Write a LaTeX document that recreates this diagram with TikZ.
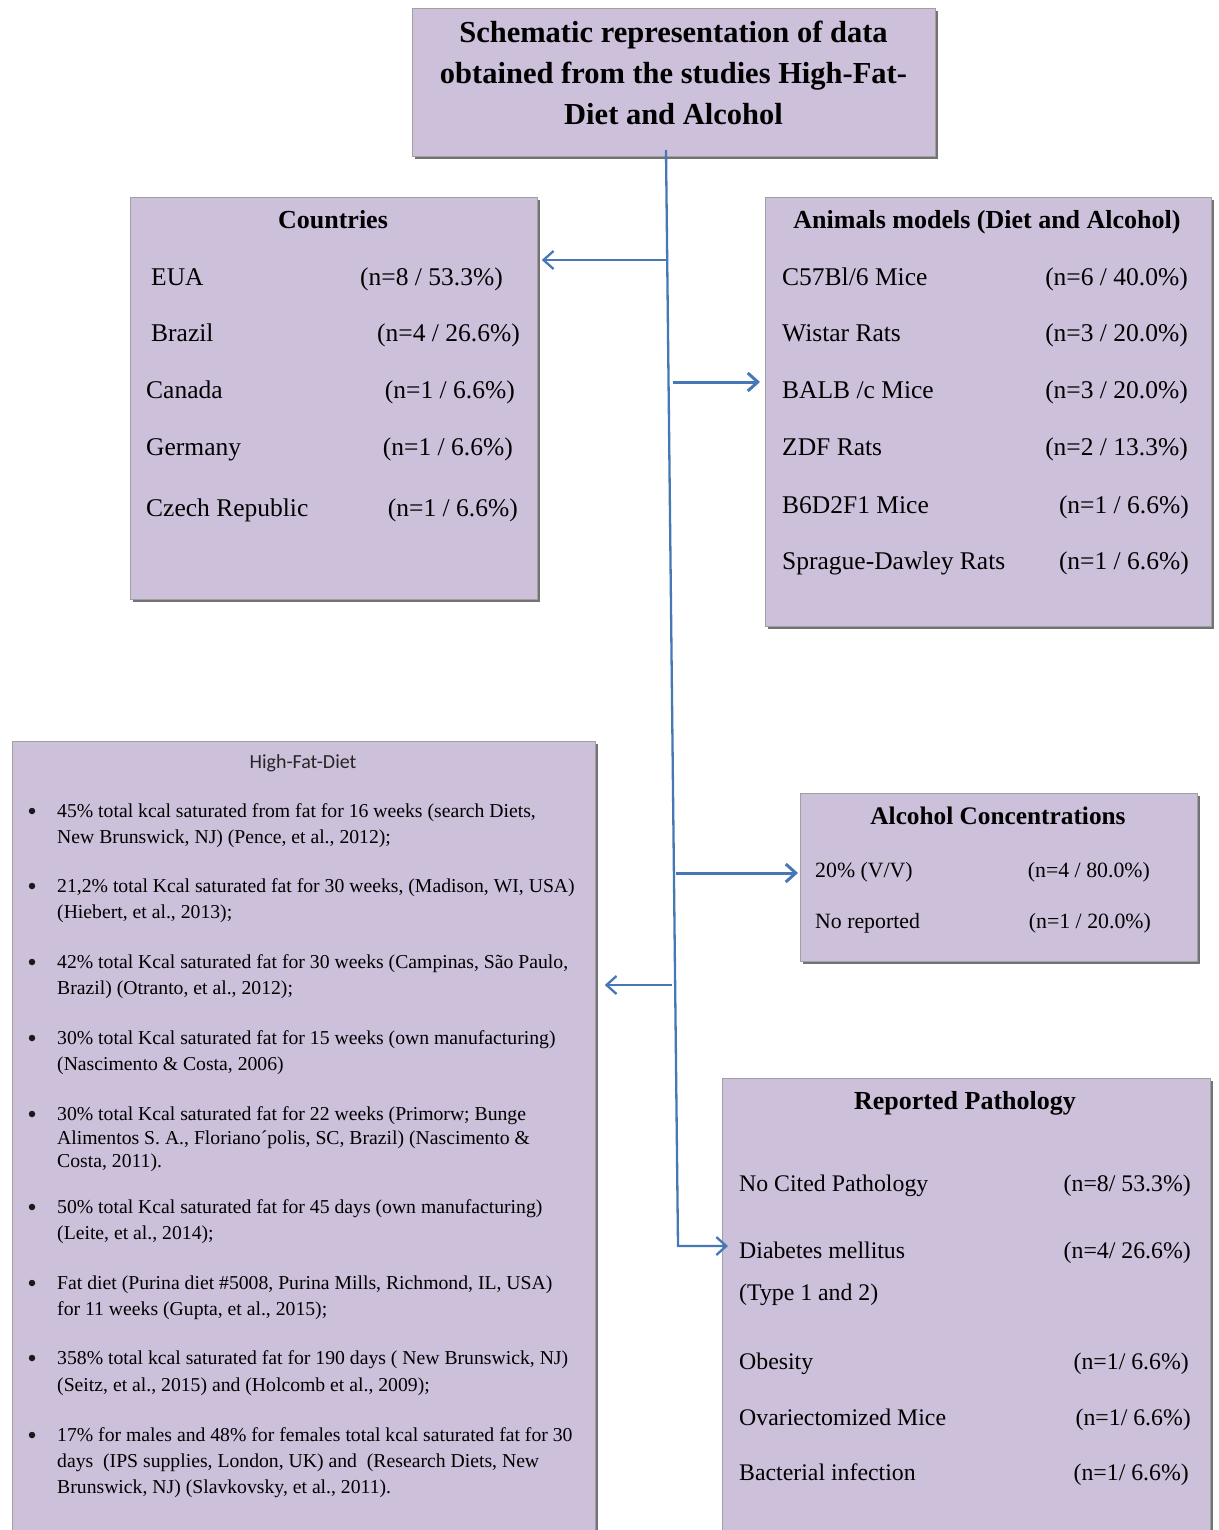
\documentclass[tikz,border=0pt]{standalone}
\usepackage{fontspec}
\setmainfont{Liberation Serif}
\newfontfamily\sansf{Carlito}
\usetikzlibrary{arrows.meta,shadows}
\definecolor{boxfill}{RGB}{204,192,218}
\definecolor{boxline}{RGB}{160,160,160}
\definecolor{shadowgray}{RGB}{115,115,115}
\definecolor{linkblue}{RGB}{70,120,182}
\tikzset{
  box/.style={draw=boxline, fill=boxfill, line width=0.8pt, inner sep=0pt, anchor=north west,
    drop shadow={shadow xshift=2.5pt, shadow yshift=-2.5pt, fill=shadowgray, opacity=1}},
  ttl/.style={inner sep=0pt, anchor=base, font=\fontsize{30.5}{35}\selectfont\bfseries},
  hd/.style={inner sep=0pt, anchor=base, font=\fontsize{26}{30}\selectfont\bfseries},
  rl/.style={inner sep=0pt, anchor=base west, font=\fontsize{25.5}{30}\selectfont},
  rr/.style={inner sep=0pt, anchor=base east, font=\fontsize{25.5}{30}\selectfont},
  pl/.style={inner sep=0pt, anchor=base west, font=\fontsize{23.8}{28}\selectfont},
  pr/.style={inner sep=0pt, anchor=base east, font=\fontsize{23.8}{28}\selectfont},
  sl/.style={inner sep=0pt, anchor=base west, font=\fontsize{21.8}{24}\selectfont},
  sr/.style={inner sep=0pt, anchor=base east, font=\fontsize{21.8}{24}\selectfont},
  hl/.style={inner sep=0pt, anchor=base west, font=\fontsize{19.7}{24}\selectfont},
  bul/.style={inner sep=0pt, anchor=center, circle, fill=black!90, minimum size=6.5pt},
  arr/.style={draw=linkblue, line width=3pt, -{Straight Barb[length=10pt,width=18pt]}},
  trunk/.style={draw=linkblue, line width=2.3pt, -{Straight Barb[length=10pt,width=18pt]}},
}
\begin{document}
\begin{tikzpicture}[x=1pt,y=-1pt]
\useasboundingbox (0,0) rectangle (1218,1530);
\clip (0,0) rectangle (1218,1530);
\fill[white] (0,0) rectangle (1218,1530);

% ---------- boxes ----------
\node[box, minimum width=523, minimum height=148] (title) at (412,8) {};
\node[box, minimum width=407, minimum height=402] (countries) at (130,197) {};
\node[box, minimum width=446, minimum height=429] (animals) at (765,197) {};
\node[box, minimum width=583, minimum height=820] (hfd) at (12,741) {};
\node[box, minimum width=397, minimum height=168] (alcohol) at (800,793) {};
\node[box, minimum width=488, minimum height=480] (patho) at (722,1078) {};

% ---------- title ----------
\node[ttl] (ti1) at (673.5,43) {Schematic representation of data};
\node[ttl] (ti2) at (673.5,84) {obtained from the studies High-Fat-};
\node[ttl] (ti3) at (673.5,125) {Diet and Alcohol};

% ---------- countries ----------
\node[hd] (chd) at (333,229) {Countries};
\node[rl] (c1l) at (151,285) {EUA};
\node[rr] (c1r) at (503,285) {(n=8 / 53.3\%)};
\node[rl] (c2l) at (151,341) {Brazil};
\node[rr] (c2r) at (520,341) {(n=4 / 26.6\%)};
\node[rl] (c3l) at (146,398) {Canada};
\node[rr] (c3r) at (515,398) {(n=1 / 6.6\%)};
\node[rl] (c4l) at (146,455) {Germany};
\node[rr] (c4r) at (513,455) {(n=1 / 6.6\%)};
\node[rl] (c5l) at (146,516) {Czech Republic};
\node[rr] (c5r) at (518,516) {(n=1 / 6.6\%)};

% ---------- animals ----------
\node[hd] (ahd) at (987,229) {Animals models (Diet and Alcohol)};
\node[rl] (a1l) at (782,285) {C57Bl/6 Mice};
\node[rr] (a1r) at (1188,285) {(n=6 / 40.0\%)};
\node[rl] (a2l) at (782,341) {Wistar Rats};
\node[rr] (a2r) at (1188,341) {(n=3 / 20.0\%)};
\node[rl] (a3l) at (782,398) {BALB /c Mice};
\node[rr] (a3r) at (1188,398) {(n=3 / 20.0\%)};
\node[rl] (a4l) at (782,455) {ZDF Rats};
\node[rr] (a4r) at (1188,455) {(n=2 / 13.3\%)};
\node[rl] (a5l) at (782,513) {B6D2F1 Mice};
\node[rr] (a5r) at (1189,513) {(n=1 / 6.6\%)};
\node[rl] (a6l) at (782,569) {Sprague-Dawley Rats};
\node[rr] (a6r) at (1189,569) {(n=1 / 6.6\%)};

% ---------- alcohol ----------
\node[hd, font=\fontsize{25.3}{28}\selectfont\bfseries] (alhd) at (998,824) {Alcohol Concentrations};
\node[sl] (al1l) at (815,877) {20\% (V/V)};
\node[sr] (al1r) at (1150,877) {(n=4 / 80.0\%)};
\node[sl] (al2l) at (815,928) {No reported};
\node[sr] (al2r) at (1151,928) {(n=1 / 20.0\%)};

% ---------- pathology ----------
\node[hd] (phd) at (965,1109) {Reported Pathology};
\node[pl] (p1l) at (739,1191) {No Cited Pathology};
\node[pr] (p1r) at (1191,1191) {(n=8/ 53.3\%)};
\node[pl] (p2l) at (739,1258) {Diabetes mellitus};
\node[pr] (p2r) at (1191,1258) {(n=4/ 26.6\%)};
\node[pl] (p2m) at (739,1300) {(Type 1 and 2)};
\node[pl] (p3l) at (739,1369) {Obesity};
\node[pr] (p3r) at (1189,1369) {(n=1/ 6.6\%)};
\node[pl] (p4l) at (739,1425) {Ovariectomized Mice};
\node[pr] (p4r) at (1191,1425) {(n=1/ 6.6\%)};
\node[pl] (p5l) at (739,1480) {Bacterial infection};
\node[pr] (p5r) at (1189,1480) {(n=1/ 6.6\%)};

% ---------- high-fat diet ----------
\node[inner sep=0pt, anchor=base, font=\sansf\fontsize{20}{22}\selectfont, text=black!85] (hhd) at (303,768) {High-Fat-Diet};
\node[bul] (b1) at (32,811) {};
\node[hl] (h1a) at (57,817) {45\% total kcal saturated from fat for 16 weeks (search Diets,};
\node[hl] (h1b) at (57,843) {New Brunswick, NJ) (Pence, et al., 2012);};
\node[bul] (b2) at (32,886) {};
\node[hl] (h2a) at (57,892) {21,2\% total Kcal saturated fat for 30 weeks, (Madison, WI, USA)};
\node[hl] (h2b) at (57,918) {(Hiebert, et al., 2013);};
\node[bul] (b3) at (32,962) {};
\node[hl] (h3a) at (57,968) {42\% total Kcal saturated fat for 30 weeks (Campinas, São Paulo,};
\node[hl] (h3b) at (57,994) {Brazil) (Otranto, et al., 2012);};
\node[bul] (b4) at (32,1038) {};
\node[hl] (h4a) at (57,1044) {30\% total Kcal saturated fat for 15 weeks (own manufacturing)};
\node[hl] (h4b) at (57,1070) {(Nascimento \& Costa, 2006)};
\node[bul] (b5) at (32,1114) {};
\node[hl] (h5a) at (57,1120) {30\% total Kcal saturated fat for 22 weeks (Primorw; Bunge};
\node[hl] (h5b) at (57,1144) {Alimentos S. A., Floriano´polis, SC, Brazil) (Nascimento \&};
\node[hl] (h5c) at (57,1167) {Costa, 2011).};
\node[bul] (b6) at (32,1207) {};
\node[hl] (h6a) at (57,1213) {50\% total Kcal saturated fat for 45 days (own manufacturing)};
\node[hl] (h6b) at (57,1239) {(Leite, et al., 2014);};
\node[bul] (b7) at (32,1283) {};
\node[hl] (h7a) at (57,1289) {Fat diet (Purina diet \#5008, Purina Mills, Richmond, IL, USA)};
\node[hl] (h7b) at (57,1315) {for 11 weeks (Gupta, et al., 2015);};
\node[bul] (b8) at (32,1358) {};
\node[hl] (h8a) at (57,1364) {358\% total kcal saturated fat for 190 days ( New Brunswick, NJ)};
\node[hl] (h8b) at (57,1391) {(Seitz, et al., 2015) and (Holcomb et al., 2009);};
\node[bul] (b9) at (32,1435) {};
\node[hl] (h9a) at (57,1441) {17\% for males and 48\% for females total kcal saturated fat for 30};
\node[hl] (h9b) at (57,1467) {days~ (IPS supplies, London, UK) and~ (Research Diets, New};
\node[hl] (h9c) at (57,1493) {Brunswick, NJ) (Slavkovsky, et al., 2011).};

% ---------- connectors ----------
\coordinate (t0) at (666,150);
\coordinate (t1) at (678,1246);
\coordinate (j1) at (667,260);
\coordinate (j2) at (673,382);
\coordinate (j3) at (676,873);
\coordinate (j4) at (672,985);
\draw[trunk, shorten >=-6pt] (t0) -- (t1) -- (patho.west |- t1);
\draw[trunk, shorten >=4pt] (j1) -- (countries.east |- j1);
\draw[arr, shorten >=5pt] (j2) -- (animals.west |- j2);
\draw[arr, shorten >=2pt] (j3) -- (alcohol.west |- j3);
\draw[trunk, shorten >=9pt] (j4) -- (hfd.east |- j4);
\end{tikzpicture}
\end{document}
